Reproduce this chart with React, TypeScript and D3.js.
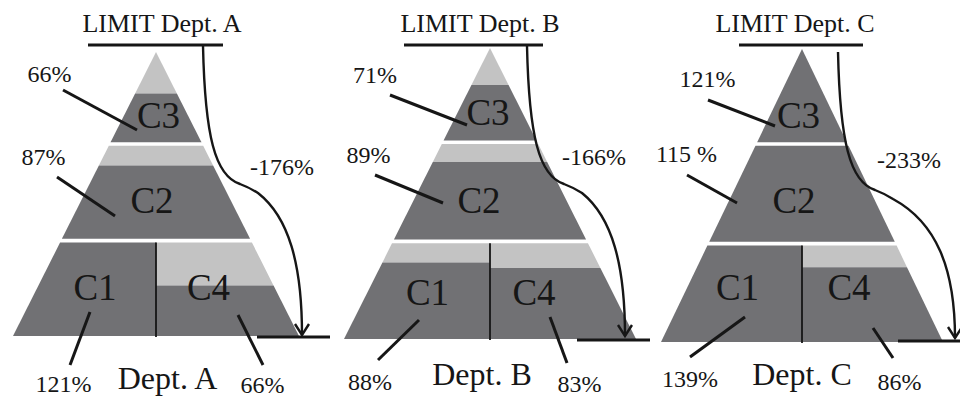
import React from "react";
import * as d3 from "d3";

// Departments and their category utilisation (percent of limit)
const departments = ["Dept. A", "Dept. B", "Dept. C"];
const limitChange = [-176, -166, -233];
const categories = ["C1", "C2", "C3", "C4"];
const c1Values = [121, 88, 139];
const c2Values = [87, 89, 115];
const c3Values = [66, 71, 121];
const c4Values = [66, 83, 86];

const W = 960;
const H = 399;
const DARK = "#717174";
const LIGHT = "#c3c3c3";
const INK = "#161616";
const FONT = "'Liberation Serif', 'Times New Roman', serif";

// share of a tier that is filled dark for a given utilisation
const fillScale = d3.scaleLinear().domain([20, 105]).range([0, 1]).clamp(true);

// vertical tiers of each pyramid, as fractions of its height
const TIERS = { top: [0, 0.318], mid: [0.33, 0.658], bottom: [0.671, 1] };

type Pt = [number, number];
type Note = { text: Pt; leader: [number, number, number, number]; name: Pt; spaced?: boolean };

// page layout of each panel
const PANELS = [
  {
    cx: 156, apexY: 52, baseY: 336, hw: 143,
    limitText: [162, 32] as Pt, limitLine: [88, 223, 45],
    arrow: { x0: 203, y0: 46, x1: 302, y1: 335 }, baseLine: [257, 330, 337],
    change: [250, 175] as Pt, dept: [167.5, 389] as Pt,
    notes: {
      C3: { text: [49.5, 82], leader: [63, 90, 137, 130], name: [158.5, 128] },
      C2: { text: [43.5, 165], leader: [57, 177, 115, 216], name: [152, 213] },
      C1: { text: [63.5, 392], leader: [90, 312, 70, 365], name: [95, 300] },
      C4: { text: [262.5, 393], leader: [238, 315, 263, 365], name: [208.5, 300] },
    } as Record<string, Note>,
  },
  {
    cx: 490, apexY: 48, baseY: 339, hw: 146,
    limitText: [480, 32] as Pt, limitLine: [404, 543, 45],
    arrow: { x0: 527, y0: 46, x1: 625, y1: 336 }, baseLine: [577, 650, 340],
    change: [562, 165] as Pt, dept: [482, 385] as Pt,
    notes: {
      C3: { text: [375, 83], leader: [390, 95, 467, 125], name: [488, 125] },
      C2: { text: [368.5, 163], leader: [375, 175, 443, 203], name: [479, 213] },
      C1: { text: [370, 390], leader: [419, 320, 378, 360], name: [427.5, 305] },
      C4: { text: [579.5, 392], leader: [550, 317, 567, 363], name: [534, 305] },
    } as Record<string, Note>,
  },
  {
    cx: 802, apexY: 49, baseY: 342, hw: 141,
    limitText: [795, 32] as Pt, limitLine: [739, 863, 45],
    arrow: { x0: 838, y0: 52, x1: 955, y1: 338 }, baseLine: [898, 960, 341],
    change: [877, 168] as Pt, dept: [802, 385] as Pt,
    notes: {
      C3: { text: [707.5, 87], leader: [708, 100, 775, 126], name: [798.5, 128] },
      C2: { text: [686.5, 162], leader: [687, 175, 737, 203], name: [794, 213], spaced: true },
      C1: { text: [690, 387], leader: [745, 317, 690, 357], name: [737.5, 300] },
      C4: { text: [899.5, 390], leader: [873, 328, 893, 358], name: [849, 300] },
    } as Record<string, Note>,
  },
];

const polyLine = d3.line<Pt>();

function arrowPath(a: { x0: number; y0: number; x1: number; y1: number }) {
  const p = d3.path();
  const { x0, y0, x1, y1 } = a;
  p.moveTo(x0, y0);
  p.bezierCurveTo(x0 + 2, y0 + 90, x0 + 12, y0 + 130, x0 + 37, y0 + 138);
  p.bezierCurveTo(x0 + 45, y0 + 141, x0 + 47, y0 + 142, x0 + 55, y0 + 147);
  const bx = x0 + 55;
  const by = y0 + 147;
  p.bezierCurveTo(bx + 0.7 * (x1 - bx), by + 0.17 * (y1 - by), x1, by + 0.5 * (y1 - by), x1, y1);
  return p.toString();
}

function Pyramid({ i }: { i: number }) {
  const P = PANELS[i];
  const y = d3.scaleLinear().domain([0, 1]).range([P.apexY, P.baseY]);
  const half = (yy: number) => (P.hw * (yy - P.apexY)) / (P.baseY - P.apexY);
  const cx = P.cx;

  // polygon of the band between yt and yb, whole width or one half
  const band = (yt: number, yb: number, side: "all" | "left" | "right"): Pt[] => {
    const lt = side === "right" ? cx : cx - half(yt);
    const rt = side === "left" ? cx : cx + half(yt);
    const lb = side === "right" ? cx : cx - half(yb);
    const rb = side === "left" ? cx : cx + half(yb);
    return [[lt, yt], [rt, yt], [rb, yb], [lb, yb]];
  };

  const tier = (range: number[], value: number, side: "all" | "left" | "right", key: string) => {
    const yt = y(range[0]);
    const yb = y(range[1]);
    const ym = yb - fillScale(value) * (yb - yt);
    return (
      <g key={key}>
        {ym > yt + 0.5 && <path d={polyLine(band(yt, ym, side)) + "Z"} fill={LIGHT} />}
        <path d={polyLine(band(ym, yb, side)) + "Z"} fill={DARK} />
      </g>
    );
  };

  const values: Record<string, number> = {
    C1: c1Values[i], C2: c2Values[i], C3: c3Values[i], C4: c4Values[i],
  };
  const yBottomTop = y(TIERS.bottom[0]);

  return (
    <g>
      {tier(TIERS.top, values.C3, "all", "c3")}
      {tier(TIERS.mid, values.C2, "all", "c2")}
      {tier(TIERS.bottom, values.C1, "left", "c1")}
      {tier(TIERS.bottom, values.C4, "right", "c4")}
      <line x1={cx} x2={cx} y1={yBottomTop} y2={P.baseY + 1} stroke={INK} strokeWidth={1.8} />

      {/* limit bar and title */}
      <text x={P.limitText[0]} y={P.limitText[1]} textAnchor="middle" fontSize={26} fontFamily={FONT} fill={INK}>
        {"LIMIT " + departments[i]}
      </text>
      <line x1={P.limitLine[0]} x2={P.limitLine[1]} y1={P.limitLine[2]} y2={P.limitLine[2]} stroke={INK} strokeWidth={3} />

      {/* drop from limit to base */}
      <path d={arrowPath(P.arrow)} fill="none" stroke={INK} strokeWidth={2.4} />
      <path
        d={polyLine([
          [P.arrow.x1 - 7, P.arrow.y1 - 11],
          [P.arrow.x1, P.arrow.y1],
          [P.arrow.x1 + 7, P.arrow.y1 - 11],
        ])!}
        fill="none"
        stroke={INK}
        strokeWidth={2.4}
      />
      <line x1={P.baseLine[0]} x2={P.baseLine[1]} y1={P.baseLine[2]} y2={P.baseLine[2]} stroke={INK} strokeWidth={3} />
      <text x={P.change[0]} y={P.change[1]} fontSize={24} fontFamily={FONT} fill={INK}>
        {limitChange[i] + "%"}
      </text>

      {/* category names, leaders and values */}
      {categories.map((c) => {
        const n = P.notes[c];
        return (
          <g key={c}>
            <text x={n.name[0]} y={n.name[1]} textAnchor="middle" fontSize={37} fontFamily={FONT} fill={INK}>
              {c}
            </text>
            <line x1={n.leader[0]} y1={n.leader[1]} x2={n.leader[2]} y2={n.leader[3]} stroke={INK} strokeWidth={3} />
            <text x={n.text[0]} y={n.text[1]} textAnchor="middle" fontSize={24} fontFamily={FONT} fill={INK}>
              {values[c] + (n.spaced ? " %" : "%")}
            </text>
          </g>
        );
      })}

      <text x={P.dept[0]} y={P.dept[1]} textAnchor="middle" fontSize={32} fontFamily={FONT} fill={INK}>
        {departments[i]}
      </text>
    </g>
  );
}

export default function App() {
  return (
    <svg
      width={W}
      height={H}
      viewBox={`0 0 ${W} ${H}`}
      style={{ position: "absolute", left: 0, top: 0, background: "#fff", display: "block" }}
    >
      <rect width={W} height={H} fill="#fff" />
      {departments.map((d, i) => (
        <Pyramid key={d} i={i} />
      ))}
    </svg>
  );
}
